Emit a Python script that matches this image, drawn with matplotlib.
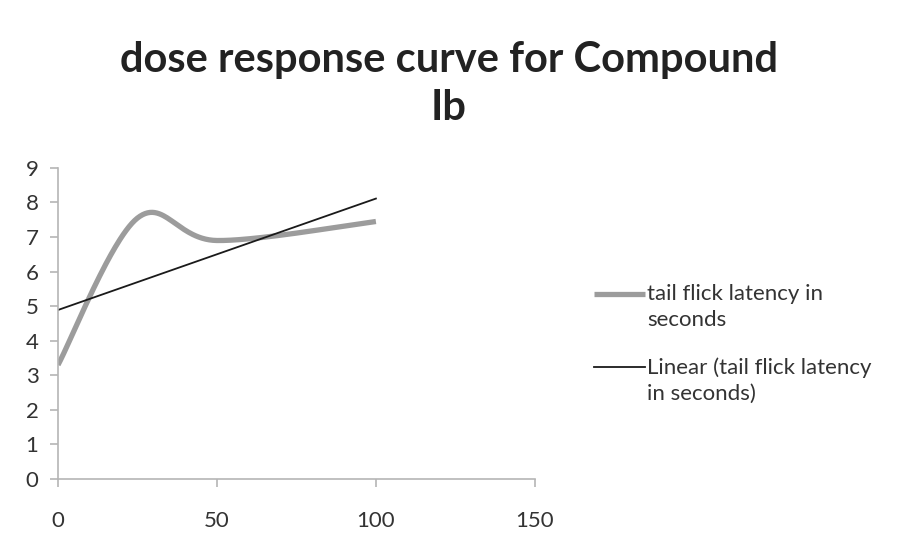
import numpy as np
from matplotlib import pyplot as plt
from matplotlib.legend_handler import HandlerLine2D

dose = [0, 25, 50, 100]
latency = [3.3, 7.55, 6.9, 7.45]
x_ticks = [0, 50, 100, 150]
y_ticks = list(range(0, 10))

plt.rcParams['font.family'] = ['Lato', 'DejaVu Sans']


def smooth(xs, ys, n=60):
    # excel-style smoothed line (catmull-rom as cubic bezier)
    p = np.column_stack([xs, ys]).astype(float)
    p = np.vstack([p[0], p, p[-1]])
    out = []
    for i in range(1, len(p) - 2):
        b0 = p[i]
        b3 = p[i + 1]
        b1 = b0 + (p[i + 1] - p[i - 1]) / 6
        b2 = b3 - (p[i + 2] - p[i]) / 6
        t = np.linspace(0, 1, n)[:, None]
        seg = ((1 - t) ** 3) * b0 + 3 * ((1 - t) ** 2) * t * b1 + 3 * (1 - t) * t ** 2 * b2 + t ** 3 * b3
        out.append(seg)
    out = np.vstack(out)
    return out[:, 0], out[:, 1]


class TopLineHandler(HandlerLine2D):
    # put the legend line level with the first text line, like excel
    def create_artists(self, legend, orig_handle, xdescent, ydescent, width, height, fontsize, trans):
        arts = super().create_artists(legend, orig_handle, xdescent, ydescent, width, height, fontsize, trans)
        for a in arts:
            a.set_ydata(np.asarray(a.get_ydata()) + 0.62 * fontsize)
        return arts


fig = plt.figure(figsize=(8.98, 5.42), dpi=100)
ax = fig.add_axes([0.0646, 0.1162, 0.531, 0.574])

sx, sy = smooth(dose, latency)
l1, = ax.plot(sx, sy, color='#9c9c9c', lw=3.8, solid_capstyle='butt',
              label='tail flick latency in\nseconds')

k, b = np.polyfit(dose, latency, 1)
xl = np.array([min(dose), max(dose)])
l2, = ax.plot(xl, k * xl + b, color='#1a1a1a', lw=1.3,
              label='Linear (tail flick latency\nin seconds)')

ax.set_xlim(0, 150)
ax.set_ylim(0, 9)
ax.set_xticks(x_ticks)
ax.set_yticks(y_ticks)
for s in ['top', 'right']:
    ax.spines[s].set_visible(False)
for s in ['left', 'bottom']:
    ax.spines[s].set_color('#b5b5b5')
    ax.spines[s].set_linewidth(1.2)
ax.tick_params(colors='#b5b5b5', labelcolor='#333333', labelsize=16, length=6, width=1.2)
ax.tick_params(axis='x', pad=17)
ax.tick_params(axis='y', pad=8)

fig.suptitle('dose response curve for Compound\nIb', fontsize=30, fontweight='bold',
             color='#222222', x=0.5, y=0.925, linespacing=1.35)

leg = fig.legend(handles=[l1, l2], loc='upper left', bbox_to_anchor=(0.639, 0.513),
                 frameon=False, fontsize=16, handlelength=2.3, handletextpad=0.1,
                 labelspacing=1.2, labelcolor='#333333',
                 handler_map={l1: TopLineHandler(), l2: TopLineHandler()})
for t in leg.get_texts():
    t.set_linespacing(1.4)

fig.savefig('out.png')
